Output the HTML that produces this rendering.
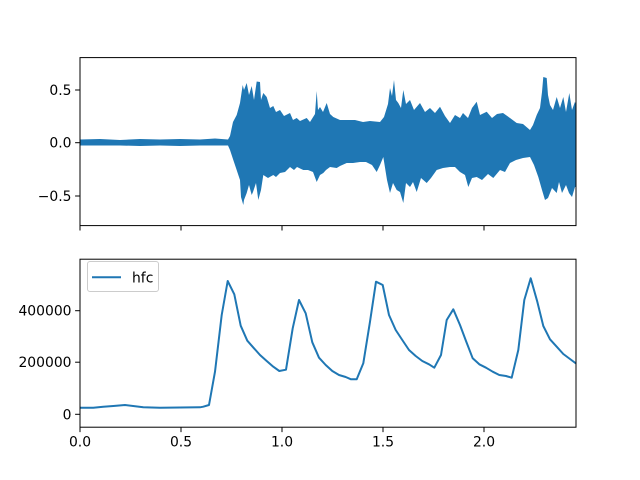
<!DOCTYPE html>
<html><head><meta charset="utf-8"><style>
html,body{margin:0;padding:0;background:#fff;}
svg{display:block;}
text{font-family:"DejaVu Sans","Liberation Sans",sans-serif;font-size:13.9px;fill:#000;}
</style></head><body>
<svg width="640" height="480" viewBox="0 0 640 480" xmlns="http://www.w3.org/2000/svg">
<rect x="0" y="0" width="640" height="480" fill="#fff"/>
<defs><clipPath id="c1"><rect x="80" y="57.6" width="496" height="168"/></clipPath>
<clipPath id="c2"><rect x="80" y="259.2" width="496" height="168"/></clipPath></defs>
<!-- waveform -->
<g clip-path="url(#c1)">
<polygon fill="#1f77b4" points="80,139.5 100,139 120,140 140,139 160,139.5 180,139 200,139.5 215,138.5 228,139.5 230,136 233,122 236.7,115 240,103 242.7,85 244,90 246.7,83 249,95 251.7,86 254,100 256.7,81.5 260,82 261,100 263.3,93 266.7,97 270,108 273.3,106 276,112 280,110 284,116 290,113 293,120 296.7,118 300,121 306.7,118 310,122 315,114 316.7,91 318,110 320,107 323,112 326.7,103 330,114 333.3,117 340,120 346.7,120 355,120 363,122 370,121 380,122 384,117 388,104 390,88 392,96 394,80 396,100 398.3,103 401,108 403.3,90 406,104 410,100 414,110 420,103 425,112 430,108 435,113 440,106.7 445,116 450,123 455,115 460,118 463,113 468,118 472,108 476.7,101.7 480,115 486.7,111.7 492,118 497,114 503,113 510,118 516.7,123 523,124 530,130 533,125 536.7,115 540,108 542,92 543.3,77 546.7,78 548,95 550,105 553,110 556.7,97 560,108 563.3,97 566,112 569.3,93 572,110 575,101.7 576,105 576,187 575,187 572,197 569,193 566,185 562,193 559,182 556.7,193 552,188 548,198 545,200 542,190 538.3,177 534,165 530,157 523,158 516,160 510,163 505,172 500,170 493.3,178 488,174 482,180 476.7,177 472,178 468.3,187 465,175 460,172 455,167 450,167 443,168 436.7,170 431,178 426.7,183 421,178 416.7,192 413,182 410,187 406,183 403.3,203 400,192 396.7,190 393,183 390,193 387,180 383.3,157 380,165 376.7,172 372,165 366,162 360,162 353,163 346.7,163 340,166 336.7,168 330,167 326,170 323.3,173 320,175 316.7,182 313,172 308,170 303.3,170 297,167 294,170 290,167 285,172 280,173 276,177 273.3,175 268,178 263.3,175 261,190 258.3,200 256,183 253,192 251.7,195 249,185 246.7,193 244,200 243.3,205 241,197 240,180 236,168 233.3,160 230,150 228,145.5 200,145.5 180,146 160,145.5 140,146 120,145.5 100,145.5 80,145.5"/>
</g>
<!-- top axes frame -->
<rect x="80" y="57.6" width="496" height="168" fill="none" stroke="#000" stroke-width="1"/>
<g stroke="#000" stroke-width="1">
<line x1="80" y1="225.6" x2="80" y2="230.5"/>
<line x1="181" y1="225.6" x2="181" y2="230.5"/>
<line x1="282" y1="225.6" x2="282" y2="230.5"/>
<line x1="383" y1="225.6" x2="383" y2="230.5"/>
<line x1="484" y1="225.6" x2="484" y2="230.5"/>
<line x1="75.1" y1="90" x2="80" y2="90"/>
<line x1="75.1" y1="142.7" x2="80" y2="142.7"/>
<line x1="75.1" y1="196" x2="80" y2="196"/>
</g>
<g text-anchor="end">
<text x="71.5" y="95">0.5</text>
<text x="71.5" y="147.7">0.0</text>
<text x="71.5" y="201">−0.5</text>
</g>
<!-- hfc line -->
<g clip-path="url(#c2)">
<polyline fill="none" stroke="#1f77b4" stroke-width="2" stroke-linejoin="round" points="80,407.7 93.3,407.7 103.3,406.7 113.3,406 125,405 143.3,407.3 160,407.7 200,407.3 203.3,406.7 209,405 215,371.7 221.7,315 227.7,281 234.3,294.3 240.7,325.7 247.3,340.7 254,348.3 260,355 266.7,361 273.3,366.7 279.3,371 286,369.7 292.7,328.3 299,300 305.7,313.3 312.3,342.3 319,357.7 325.7,365 332.3,371 339,375 345.7,377 351,379.3 356.7,379.3 363.3,363.3 370,321.7 376,281.7 382.7,285 389,315 395.7,330 402.3,340 409,350 415.7,356 422.3,361 429,364.3 434.3,367.7 441,355 446.7,320 453.3,309.3 460,325 466,341 472.7,358.3 479.3,364.3 486,367.7 492.7,371.7 499.3,375 506,376 511.7,377.7 518.3,350 524.3,300 530.7,278.3 537.3,301.7 543.3,326 550,339.3 556.7,346.7 563.3,354 570,359 576,363.5"/>
</g>
<rect x="80" y="259.2" width="496" height="168" fill="none" stroke="#000" stroke-width="1"/>
<g stroke="#000" stroke-width="1">
<line x1="80" y1="427.2" x2="80" y2="432.1"/>
<line x1="181" y1="427.2" x2="181" y2="432.1"/>
<line x1="282" y1="427.2" x2="282" y2="432.1"/>
<line x1="383" y1="427.2" x2="383" y2="432.1"/>
<line x1="484" y1="427.2" x2="484" y2="432.1"/>
<line x1="75.1" y1="310.7" x2="80" y2="310.7"/>
<line x1="75.1" y1="362.2" x2="80" y2="362.2"/>
<line x1="75.1" y1="414.3" x2="80" y2="414.3"/>
</g>
<g text-anchor="end">
<text x="71.5" y="315.7">400000</text>
<text x="71.5" y="367.2">200000</text>
<text x="71.5" y="419.3">0</text>
</g>
<g text-anchor="middle">
<text x="80" y="446.5">0.0</text>
<text x="181" y="446.5">0.5</text>
<text x="282" y="446.5">1.0</text>
<text x="383" y="446.5">1.5</text>
<text x="484" y="446.5">2.0</text>
</g>
<!-- legend -->
<rect x="87.5" y="261.5" width="71" height="30" rx="2.5" ry="2.5" fill="#fff" fill-opacity="0.8" stroke="#ccc" stroke-width="1"/>
<line x1="92" y1="277.3" x2="121" y2="277.3" stroke="#1f77b4" stroke-width="2"/>
<text x="132" y="282.5">hfc</text>
</svg>
</body></html>
